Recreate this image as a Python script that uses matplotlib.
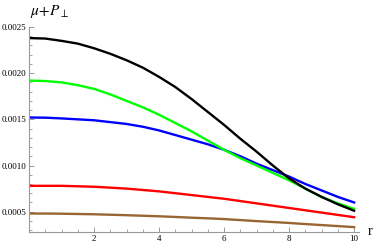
import numpy as np
import matplotlib
matplotlib.use("Agg")
import matplotlib.pyplot as plt
from matplotlib.ticker import MultipleLocator, FormatStrFormatter

# radio (pasos de 0.5)
r = [0, 0.5, 1, 1.5, 2, 2.5, 3, 3.5, 4, 4.5, 5,
     5.5, 6, 6.5, 7, 7.5, 8, 8.5, 9, 9.5, 10]

negro = [0.00238, 0.002375, 0.00235, 0.00232, 0.00227, 0.00221, 0.00214, 0.00206, 0.00196, 0.00185, 0.00172,
         0.00158, 0.00144, 0.00129, 0.00115, 0.00100, 0.00086, 0.00075, 0.00066, 0.00058, 0.00051]
verde = [0.00192, 0.001915, 0.00190, 0.00187, 0.00183, 0.00177, 0.00170, 0.00163, 0.00155, 0.00146, 0.00137,
         0.00127, 0.00117, 0.00108, 0.00100, 0.00092, 0.00084, 0.00075, 0.00066, 0.00059, 0.00053]
azul = [0.00152, 0.001518, 0.00151, 0.00150, 0.00149, 0.00147, 0.00145, 0.00142, 0.00138, 0.00133, 0.00128,
        0.00123, 0.00117, 0.00110, 0.00102, 0.00095, 0.00088, 0.00080, 0.00073, 0.00066, 0.00060]
rojo = [0.00078, 0.00078, 0.00078, 0.000775, 0.00077, 0.00076, 0.00075, 0.000735, 0.00072, 0.00070, 0.00068,
        0.00066, 0.00064, 0.000615, 0.00059, 0.000565, 0.00054, 0.000515, 0.00049, 0.000465, 0.00044]
marron = [0.00048, 0.00048, 0.000478, 0.000475, 0.000472, 0.000467, 0.000462, 0.000456, 0.00045, 0.000443, 0.000435,
          0.000428, 0.00042, 0.000409, 0.000398, 0.000388, 0.000378, 0.000366, 0.000355, 0.000344, 0.000333]

plt.rcParams['font.family'] = 'Liberation Serif'
plt.rcParams['mathtext.fontset'] = 'stix'

fig = plt.figure(figsize=(3.74, 2.45), dpi=100)
ax = fig.add_axes([29/374, 1 - 232/245, 330/374, 205/245])

ax.plot(r, marron, color="#996633", lw=1.7)
ax.plot(r, rojo, color="#ff0000", lw=1.7)
ax.plot(r, azul, color="#0000ff", lw=1.7)
ax.plot(r, verde, color="#00ff00", lw=1.7)
ax.plot(r, negro, color="black", lw=1.7)

ax.set_xlim(0, 10.15)
ax.set_ylim(0.00028, 0.0025)

for lado in ["top", "right"]:
    ax.spines[lado].set_visible(False)
for lado in ["left", "bottom"]:
    ax.spines[lado].set_color("#999999")
    ax.spines[lado].set_linewidth(0.8)

ax.xaxis.set_major_locator(MultipleLocator(2))
ax.xaxis.set_minor_locator(MultipleLocator(0.5))
ax.yaxis.set_major_locator(MultipleLocator(0.0005))
ax.yaxis.set_minor_locator(MultipleLocator(0.0001))
ax.yaxis.set_major_formatter(FormatStrFormatter("%.4f"))
ax.set_xticks([2, 4, 6, 8, 10])
ax.tick_params(which="both", direction="in", color="#999999", labelsize=6.5, pad=2)
ax.tick_params(which="major", length=3.5, width=0.7)
ax.tick_params(which="minor", length=2, width=0.6)

fig.text(30/374, 1 - 12/245, r"$\mu\!+\!P_{\perp}$", fontsize=11, ha="left", va="center")
fig.text(370/374, 1 - 231/245, "r", fontsize=10, ha="center", va="center")

fig.savefig("out.png", dpi=100)
